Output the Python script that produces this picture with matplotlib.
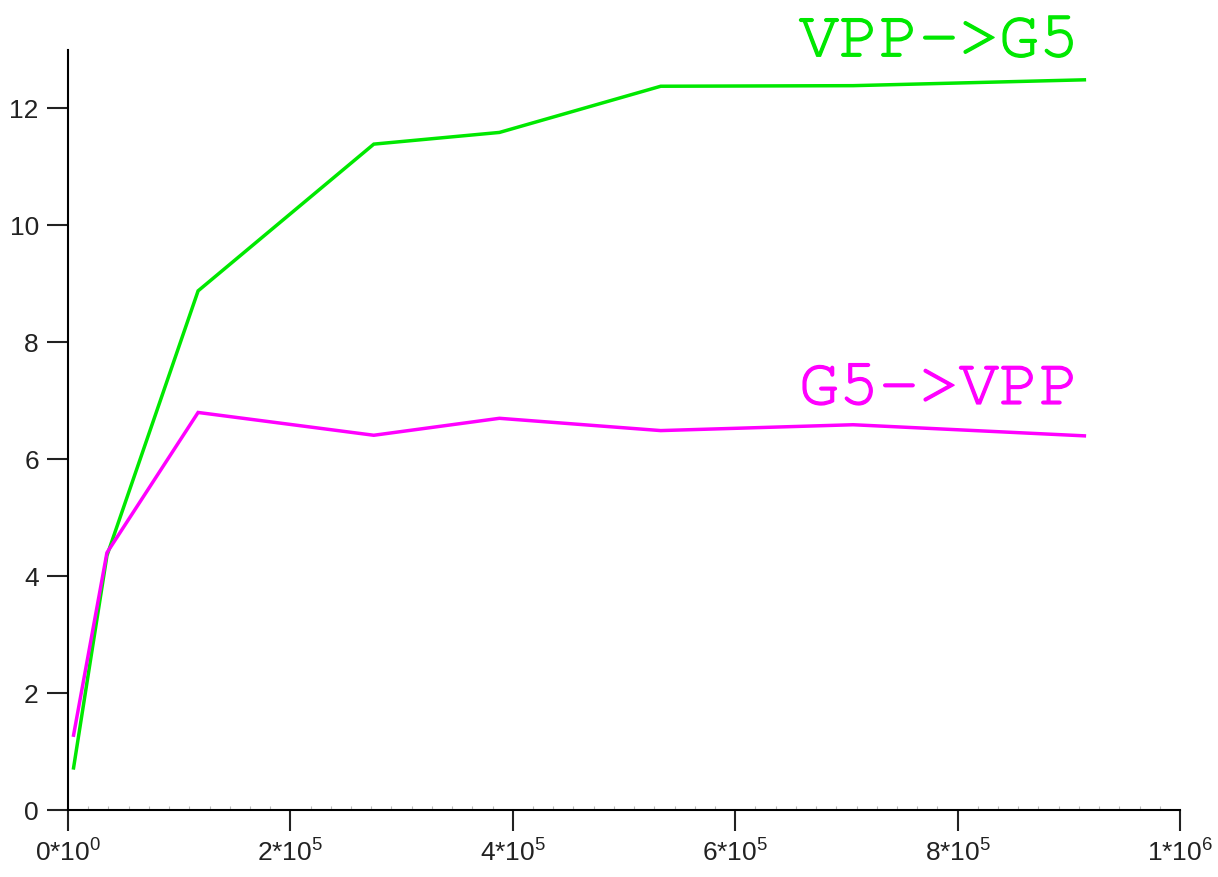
import matplotlib

matplotlib.use("Agg")
import matplotlib.patheffects as pe
import matplotlib.pyplot as plt
from matplotlib.ticker import FixedLocator, MultipleLocator

# values
sizes = [5e3, 35e3, 117e3, 275e3, 388e3, 533e3, 706e3, 914e3]
vpp_to_g5 = [0.72, 4.35, 8.88, 11.39, 11.59, 12.38, 12.39, 12.49]
g5_to_vpp = [1.28, 4.40, 6.80, 6.41, 6.70, 6.49, 6.59, 6.40]

x_ticks = [0, 2e5, 4e5, 6e5, 8e5, 1e6]
x_tick_labels = ["0*10$^{0}$", "2*10$^{5}$", "4*10$^{5}$", "6*10$^{5}$", "8*10$^{5}$", "1*10$^{6}$"]
y_ticks = [0, 2, 4, 6, 8, 10, 12]

GREEN = "#00e800"
MAGENTA = "#ff00ff"
MONO = ["Courier New", "Nimbus Mono PS", "FreeMono", "Liberation Mono"]

plt.rcParams["font.family"] = ["Liberation Sans Narrow", "Liberation Sans", "DejaVu Sans"]
plt.rcParams["mathtext.fontset"] = "custom"
plt.rcParams["mathtext.rm"] = "Liberation Sans"
plt.rcParams["mathtext.it"] = "Liberation Sans"
plt.rcParams["mathtext.bf"] = "Liberation Sans"

fig = plt.figure(figsize=(12.18, 8.77), dpi=100)
ax = fig.add_axes([68 / 1218, 67 / 877, 1112 / 1218, 760 / 877])

ax.plot(sizes, vpp_to_g5, color=GREEN, linewidth=2.5, solid_joinstyle="miter")
ax.plot(sizes, g5_to_vpp, color=MAGENTA, linewidth=2.5, solid_joinstyle="miter")

ax.set_xlim(0, 1e6)
ax.set_ylim(0, 13)

ax.xaxis.set_major_locator(FixedLocator(x_ticks))
ax.set_xticklabels(x_tick_labels)
ax.xaxis.set_minor_locator(MultipleLocator(2e5 / 11))
ax.yaxis.set_major_locator(FixedLocator(y_ticks))

for side in ("top", "right"):
    ax.spines[side].set_visible(False)
for side in ("left", "bottom"):
    ax.spines[side].set_linewidth(1.5)

ax.tick_params(axis="both", which="major", direction="out", length=15, width=1.5,
               labelsize=19, pad=6, colors="#222222")
ax.tick_params(axis="x", which="minor", direction="in", length=3, width=0.8, color="#bbbbbb")

# series labels at the right end of each line, slightly thickened
for text, series, dy, color in [("VPP->G5", vpp_to_g5, 17, GREEN), ("G5->VPP", g5_to_vpp, 23, MAGENTA)]:
    ax.annotate(text, (sizes[-1], series[-1]), xytext=(-4, dy), textcoords="offset points",
                ha="right", va="baseline", color=color, fontsize=48, family=MONO,
                path_effects=[pe.withStroke(linewidth=1.0, foreground=color)])

fig.savefig("out.png", dpi=100)
